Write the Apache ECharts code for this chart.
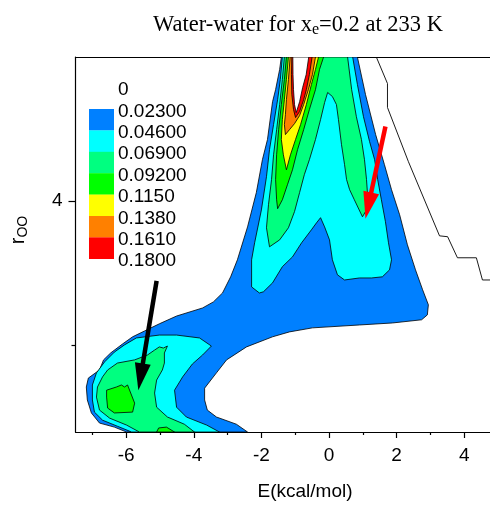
<!DOCTYPE html>
<html>
<head>
<meta charset="utf-8">
<script src="https://cdn.jsdelivr.net/npm/echarts@6/dist/echarts.min.js"></script>
<style>
  html, body { margin: 0; padding: 0; background: #fff; }
  #main { width: 490px; height: 508px; }
</style>
</head>
<body>
<div id="main"></div>
<script>
// contour levels and colours (Origin style)
const legendLabels = ['0', '0.02300', '0.04600', '0.06900', '0.09200', '0.1150', '0.1380', '0.1610', '0.1800']
const levelColors = ['#0080ff', '#00ffff', '#00ff80', '#00ff00', '#ffff00', '#ff8000', '#ff0000']
const peakColor = '#ffffff'   // above 0.18 is left unfilled

const xTicks = [-6, -4, -2, 0, 2, 4]
const xMinorTicks = [-7, -5, -3, -1, 1, 3]
const yTicks = [4]
const yMinorTicks = [3.5]

// contour outlines, [E, r] pairs
const blue023 = [[-1.41,4.5],[0.84,4.5],[1.08,4.370],[1.38,4.231],[1.64,4.127],[1.85,4.040],[2.09,3.953],[2.32,3.849],[2.56,3.762],[2.77,3.693],[2.94,3.641],[2.91,3.606],[2.74,3.589],[1.88,3.578],[0.90,3.571],[-0.49,3.561],[-1.17,3.547],[-1.67,3.530],[-2.44,3.495],[-3.03,3.450],[-3.33,3.405],[-3.68,3.352],[-3.68,3.311],[-3.60,3.276],[-3.33,3.252],[-2.74,3.227],[-2.41,3.2],[-5.99,3.2],[-6.35,3.217],[-6.79,3.231],[-7.03,3.266],[-7.15,3.311],[-7.18,3.356],[-7.12,3.387],[-6.79,3.415],[-6.67,3.450],[-6.46,3.474],[-6.11,3.505],[-5.81,3.530],[-5.46,3.550],[-5.02,3.575],[-4.51,3.602],[-3.74,3.630],[-3.42,3.651],[-3.15,3.682],[-2.91,3.738],[-2.71,3.797],[-2.41,3.911],[-2.15,4.030],[-1.97,4.144],[-1.82,4.214],[-1.67,4.345],[-1.58,4.387],[-1.46,4.457]]
const cyanTower = [[-1.38,4.5],[-1.44,4.422],[-1.52,4.352],[-1.64,4.266],[-1.76,4.179],[-1.85,4.085],[-2.00,3.970],[-2.20,3.856],[-2.29,3.797],[-2.29,3.703],[-2.06,3.682],[-1.94,3.686],[-1.67,3.717],[-1.38,3.773],[-1.08,3.807],[-0.81,3.856],[-0.52,3.901],[-0.37,3.925],[-0.25,3.943],[-0.13,3.911],[0.015,3.866],[0.10,3.797],[0.25,3.745],[0.46,3.727],[0.90,3.734],[1.26,3.734],[1.58,3.738],[1.79,3.762],[1.85,3.797],[1.76,3.856],[1.67,3.929],[1.55,4.005],[1.44,4.075],[1.35,4.144],[1.20,4.207],[1.02,4.293],[0.84,4.405],[0.70,4.5]]
const cyanLeft = [[-5.84,3.2],[-6.26,3.220],[-6.70,3.241],[-6.94,3.269],[-7.00,3.311],[-7.00,3.363],[-6.88,3.405],[-6.64,3.443],[-6.35,3.477],[-6.05,3.502],[-5.70,3.526],[-5.02,3.536],[-4.51,3.536],[-3.83,3.526],[-3.48,3.498],[-3.74,3.467],[-4.04,3.436],[-4.33,3.391],[-4.57,3.345],[-4.51,3.286],[-4.22,3.252],[-3.62,3.224],[-3.24,3.2]]
const lgreenTower = [[-1.32,4.5],[-1.38,4.422],[-1.46,4.335],[-1.55,4.248],[-1.64,4.161],[-1.70,4.075],[-1.79,3.988],[-1.85,3.908],[-1.76,3.842],[-1.46,3.866],[-1.20,3.908],[-1.02,3.964],[-0.87,4.030],[-0.73,4.092],[-0.58,4.144],[-0.40,4.214],[-0.25,4.283],[-0.13,4.342],[-0.04,4.377],[0.10,4.363],[0.22,4.335],[0.28,4.283],[0.37,4.196],[0.46,4.127],[0.52,4.075],[0.61,4.040],[0.75,4.005],[0.99,3.946],[1.11,3.970],[1.14,4.023],[1.11,4.075],[1.05,4.144],[0.96,4.214],[0.81,4.293],[0.67,4.387],[0.55,4.5]]
const lgreenLeft = [[-5.61,3.2],[-5.99,3.224],[-6.49,3.248],[-6.79,3.276],[-6.88,3.321],[-6.85,3.356],[-6.70,3.391],[-6.55,3.415],[-6.26,3.439],[-5.75,3.450],[-5.37,3.467],[-5.16,3.484],[-5.02,3.495],[-4.90,3.491],[-4.78,3.498],[-4.87,3.474],[-4.87,3.439],[-4.93,3.415],[-5.10,3.380],[-5.16,3.335],[-5.10,3.286],[-4.78,3.252],[-4.28,3.227],[-3.98,3.2]]
const greenTower = [[-1.26,4.5],[-1.32,4.422],[-1.41,4.335],[-1.49,4.248],[-1.55,4.161],[-1.58,4.075],[-1.55,4.005],[-1.52,3.974],[-1.38,4.005],[-1.23,4.057],[-1.08,4.109],[-0.93,4.179],[-0.75,4.248],[-0.58,4.318],[-0.40,4.387],[-0.28,4.457],[-0.16,4.5]]
const greenLeft = [[-6.58,3.345],[-6.29,3.356],[-6.14,3.363],[-6.05,3.356],[-5.96,3.363],[-5.75,3.300],[-5.81,3.269],[-6.35,3.266],[-6.55,3.283],[-6.58,3.321]]
const greenBump = [[-5.10,3.2],[-5.04,3.214],[-4.81,3.217],[-4.57,3.2]]
const yellowTower = [[-1.20,4.5],[-1.26,4.422],[-1.32,4.352],[-1.38,4.283],[-1.41,4.214],[-1.35,4.161],[-1.26,4.109],[-1.14,4.161],[-0.99,4.214],[-0.84,4.266],[-0.67,4.335],[-0.52,4.405],[-0.40,4.457],[-0.31,4.5]]
const orangeTower = [[-1.15,4.5],[-1.20,4.422],[-1.26,4.352],[-1.29,4.300],[-1.32,4.266],[-1.29,4.231],[-1.17,4.248],[-1.02,4.269],[-0.87,4.297],[-0.75,4.335],[-0.61,4.387],[-0.49,4.439],[-0.40,4.5]]
const redTower = [[-1.10,4.5],[-1.11,4.439],[-1.10,4.370],[-1.05,4.318],[-0.99,4.290],[-0.87,4.311],[-0.75,4.352],[-0.67,4.387],[-0.58,4.439],[-0.50,4.5]]
const peakTower = [[-1.07,4.5],[-1.065,4.439],[-1.05,4.387],[-1.02,4.335],[-0.97,4.307],[-0.87,4.345],[-0.78,4.394],[-0.675,4.439],[-0.60,4.5]]

// unfilled zero contour on the right
const zeroLine = [[1.40,4.5],[1.73,4.408],[1.73,4.325],[2.35,4.137],[3.27,3.880],[3.51,3.877],[3.80,3.804],[4.36,3.804],[4.54,3.727],[5.0,3.727]]

// annotation arrows
const arrowFrom = [[1.67,4.259],[-5.10,3.724]]
const arrowTo = [[1.08,3.939],[-5.64,3.345]]
const arrowColors = ['#ff0000', '#000000']

// draw order: low level first
const contours = [
  { pts: blue023, fill: levelColors[0] },
  { pts: cyanTower, fill: levelColors[1] },
  { pts: cyanLeft, fill: levelColors[1] },
  { pts: lgreenTower, fill: levelColors[2] },
  { pts: lgreenLeft, fill: levelColors[2] },
  { pts: greenTower, fill: levelColors[3] },
  { pts: greenLeft, fill: levelColors[3] },
  { pts: greenBump, fill: levelColors[3] },
  { pts: yellowTower, fill: levelColors[4] },
  { pts: orangeTower, fill: levelColors[5] },
  { pts: redTower, fill: levelColors[6] },
  { pts: peakTower, fill: peakColor }
]

const chart = echarts.init(document.getElementById('main'), null, { renderer: 'canvas' })

const axisFont = { fontFamily: 'Liberation Sans, Arial, sans-serif', fontSize: 19, color: '#000' }

// legend blocks and labels
const legendGraphics = []
levelColors.forEach((c, i) => {
  legendGraphics.push({
    type: 'rect',
    shape: { x: 89, y: 109 + i * 21.4, width: 25, height: 21.6 },
    style: { fill: c }
  })
})
legendLabels.forEach((t, i) => {
  legendGraphics.push({
    type: 'text',
    x: 118, y: 90 + i * 21.4,
    style: { text: t, font: '19px "Liberation Sans", Arial, sans-serif', fill: '#000', textVerticalAlign: 'middle' }
  })
})

const option = {
  animation: false,
  grid: {
    left: 75.5, right: -8, top: 57, bottom: 76,
    containLabel: false,
    outerBoundsMode: 'none'
  },
  xAxis: [
    {
      type: 'value', min: -7.5, max: 5, position: 'bottom',
      axisLine: { show: true, onZero: false, lineStyle: { color: '#000', width: 1.2 } },
      axisTick: { show: true, customValues: xTicks, length: 6, lineStyle: { color: '#000', width: 1.2 } },
      axisLabel: { customValues: xTicks, margin: 14, ...axisFont },
      splitLine: { show: false }
    },
    {
      type: 'value', min: -7.5, max: 5, position: 'bottom',
      axisLine: { show: false, onZero: false },
      axisTick: { show: true, customValues: xMinorTicks, length: 3, lineStyle: { color: '#000', width: 1.2 } },
      axisLabel: { show: false },
      splitLine: { show: false }
    },
    {
      type: 'value', min: -7.5, max: 5, position: 'top',
      axisLine: { show: true, onZero: false, lineStyle: { color: '#000', width: 1.2 } },
      axisTick: { show: false },
      axisLabel: { show: false },
      splitLine: { show: false }
    }
  ],
  yAxis: [
    {
      type: 'value', min: 3.2, max: 4.5, position: 'left',
      axisLine: { show: true, onZero: false, lineStyle: { color: '#000', width: 1.2 } },
      axisTick: { show: true, customValues: yTicks, length: 7, lineStyle: { color: '#000', width: 1.2 } },
      axisLabel: { customValues: yTicks, margin: 13, ...axisFont },
      splitLine: { show: false }
    },
    {
      type: 'value', min: 3.2, max: 4.5, position: 'left',
      axisLine: { show: false, onZero: false },
      axisTick: { show: true, customValues: yMinorTicks, length: 4, lineStyle: { color: '#000', width: 1.2 } },
      axisLabel: { show: false },
      splitLine: { show: false }
    }
  ],
  series: [
    {
      type: 'custom',
      name: 'contours',
      clip: true,
      data: contours.map(c => c.pts[0]),
      renderItem(params, api) {
        const c = contours[params.dataIndex]
        return {
          type: 'polygon',
          shape: { points: c.pts.map(p => api.coord(p)) },
          style: { fill: c.fill, stroke: '#000', lineWidth: 0.8 }
        }
      }
    },
    {
      type: 'line',
      name: 'zero',
      data: zeroLine,
      symbol: 'none',
      lineStyle: { color: '#000', width: 0.9 },
      clip: true,
      z: 3
    },
    {
      type: 'custom',
      name: 'arrows',
      data: arrowFrom,
      z: 4,
      renderItem(params, api) {
        const i = params.dataIndex
        const p0 = api.coord(arrowFrom[i])
        const p1 = api.coord(arrowTo[i])
        const dx = p1[0] - p0[0], dy = p1[1] - p0[1]
        const len = Math.hypot(dx, dy)
        const ux = dx / len, uy = dy / len
        const hl = 27, hw = 8
        const bx = p1[0] - ux * hl, by = p1[1] - uy * hl
        return {
          type: 'group',
          children: [
            { type: 'line', shape: { x1: p0[0], y1: p0[1], x2: bx + ux * 2, y2: by + uy * 2 },
              style: { stroke: arrowColors[i], lineWidth: 4.5 } },
            { type: 'polygon',
              shape: { points: [p1, [bx - uy * hw, by + ux * hw], [bx + uy * hw, by - ux * hw]] },
              style: { fill: arrowColors[i] } }
          ]
        }
      }
    }
  ],
  graphic: [
    {
      type: 'text',
      x: 298, y: 26,
      style: {
        text: '{n|Water-water for x}{s|e}{n|=0.2 at 233 K}',
        textAlign: 'center',
        textVerticalAlign: 'middle',
        rich: {
          n: { font: '22.5px "Liberation Serif", "Times New Roman", serif', fill: '#000', lineHeight: 24, verticalAlign: 'top' },
          s: { font: '16px "Liberation Serif", "Times New Roman", serif', fill: '#000', lineHeight: 18, padding: [12, 0, 0, 0], verticalAlign: 'bottom' }
        }
      }
    },
    {
      type: 'text',
      x: 305, y: 492,
      style: {
        text: 'E(kcal/mol)',
        textAlign: 'center',
        textVerticalAlign: 'middle',
        font: '19px "Liberation Sans", Arial, sans-serif',
        fill: '#000'
      }
    },
    {
      type: 'text',
      x: 19, y: 230,
      rotation: Math.PI / 2,
      style: {
        text: '{n|r}{s|OO}',
        textAlign: 'center',
        textVerticalAlign: 'middle',
        rich: {
          n: { font: '20px "Liberation Sans", Arial, sans-serif', fill: '#000', lineHeight: 22, verticalAlign: 'top' },
          s: { font: '14px "Liberation Sans", Arial, sans-serif', fill: '#000', lineHeight: 16, padding: [10, 0, 0, 0], verticalAlign: 'bottom' }
        }
      }
    },
    ...legendGraphics
  ]
}

chart.setOption(option)
</script>
</body>
</html>
